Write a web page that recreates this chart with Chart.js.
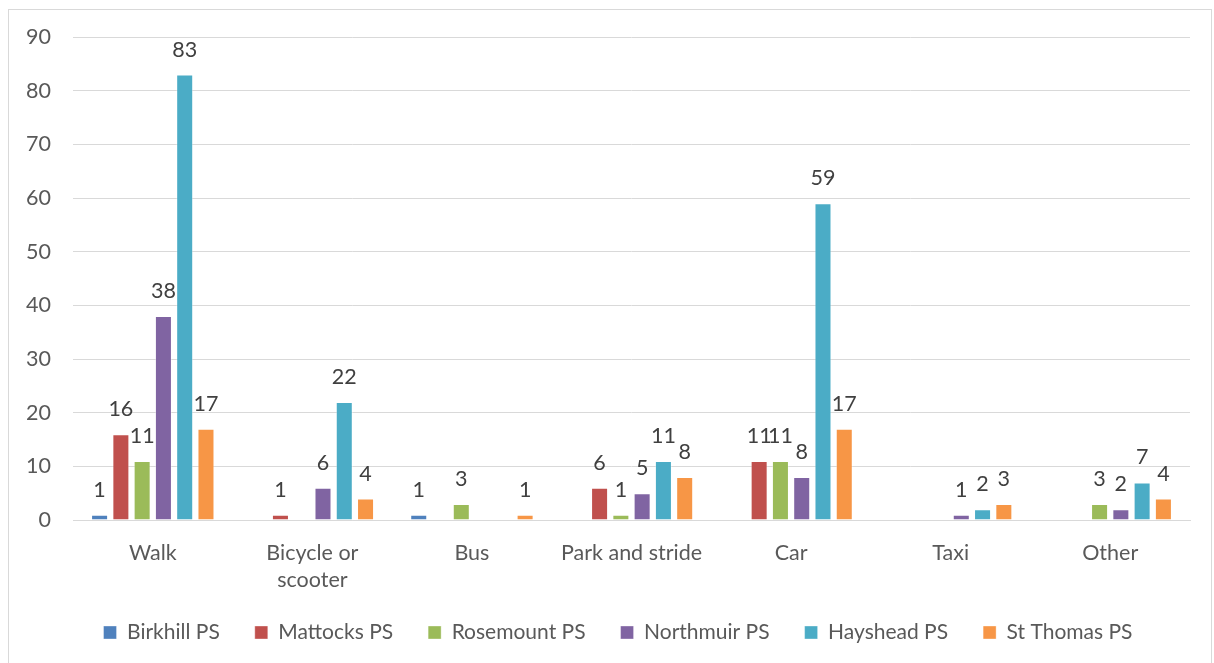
<!DOCTYPE html>
<html><head><meta charset="utf-8">
<script src="https://cdn.jsdelivr.net/npm/chart.js@4"></script>
<style>
html,body{margin:0;padding:0;background:#fff;}
#wrap{position:relative;width:1214px;height:663px;}
#frame{position:absolute;left:8px;top:9px;width:1204px;height:660px;border:1px solid #d9d9d9;box-sizing:border-box;pointer-events:none;}
canvas{position:absolute;left:0;top:0;}
</style></head>
<body>
<div id="wrap"><canvas id="c" width="1214" height="663"></canvas><div id="frame"></div></div>
<script>
const categories = ['Walk', ['Bicycle or','scooter'], 'Bus', 'Park and stride', 'Car', 'Taxi', 'Other'];
const seriesNames = ['Birkhill PS','Mattocks PS','Rosemount PS','Northmuir PS','Hayshead PS','St Thomas PS'];
const birkhill  = [1, null, 1, null, null, null, null];
const mattocks  = [16, 1, null, 6, 11, null, null];
const rosemount = [11, null, 3, 1, 11, null, 3];
const northmuir = [38, 6, null, 5, 8, 1, 2];
const hayshead  = [83, 22, null, 11, 59, 2, 7];
const stthomas  = [17, 4, 1, 8, 17, 3, 4];
const yTicks = [0,10,20,30,40,50,60,70,80,90];
const colors = ['#4F81BD','#C0504D','#9BBB59','#8064A2','#4BACC6','#F79646'];

const seriesValues = [birkhill, mattocks, rosemount, northmuir, hayshead, stthomas];
const textColor = '#595959';
const FONT = 'Lato, "Liberation Sans", sans-serif';

const valueLabels = {
  id:'valueLabels',
  afterDatasetsDraw(chart){
    const ctx = chart.ctx;
    ctx.save();
    ctx.font = '21.5px ' + FONT;
    ctx.fillStyle = '#404040';
    ctx.textAlign = 'center';
    ctx.textBaseline = 'alphabetic';
    chart.data.datasets.forEach((ds,i)=>{
      const meta = chart.getDatasetMeta(i);
      meta.data.forEach((bar,j)=>{
        const v = ds.data[j];
        if (v === null || v === undefined) return;
        ctx.fillText(String(v), bar.x, bar.y - 18);
      });
    });
    ctx.restore();
  }
};

new Chart(document.getElementById('c'), {
  type:'bar',
  data:{
    labels: categories,
    datasets: seriesNames.map((n,i)=>({
      label:n, data:seriesValues[i], backgroundColor:colors[i],
      borderColor:'rgba(255,255,255,0.35)', borderWidth:1,
      categoryPercentage:0.8, barPercentage:0.8
    }))
  },
  options:{
    responsive:false, animation:false,
    layout:{padding:{top:37,right:0,bottom:10,left:22}},
    plugins:{
      legend:{position:'bottom',
        labels:{font:{size:21,family:FONT},color:textColor,boxWidth:13,boxHeight:13,padding:35}},
      tooltip:{enabled:false}
    },
    scales:{
      x:{
        grid:{display:false, drawTicks:false},
        border:{display:true,color:'#d9d9d9',width:1},
        ticks:{font:{size:21.5,family:FONT,lineHeight:1.25},color:textColor,padding:20,maxRotation:0,autoSkip:false},
        afterFit(s){ s.height = 67; }
      },
      y:{
        min:0,max:90,
        afterBuildTicks(s){ s.ticks = yTicks.map(v=>({value:v})); },
        grid:{color:'#d9d9d9',lineWidth:1,drawTicks:false},
        border:{display:false},
        ticks:{font:{size:21.5,family:FONT},color:textColor,padding:22},
        afterFit(s){ s.width = 51; }
      },
      yRight:{
        type:'linear', position:'right', display:true,
        grid:{display:false, drawTicks:false},
        border:{display:false},
        ticks:{display:false},
        afterFit(s){ s.width = 24; }
      }
    }
  },
  plugins:[valueLabels]
});
</script>
</body></html>
